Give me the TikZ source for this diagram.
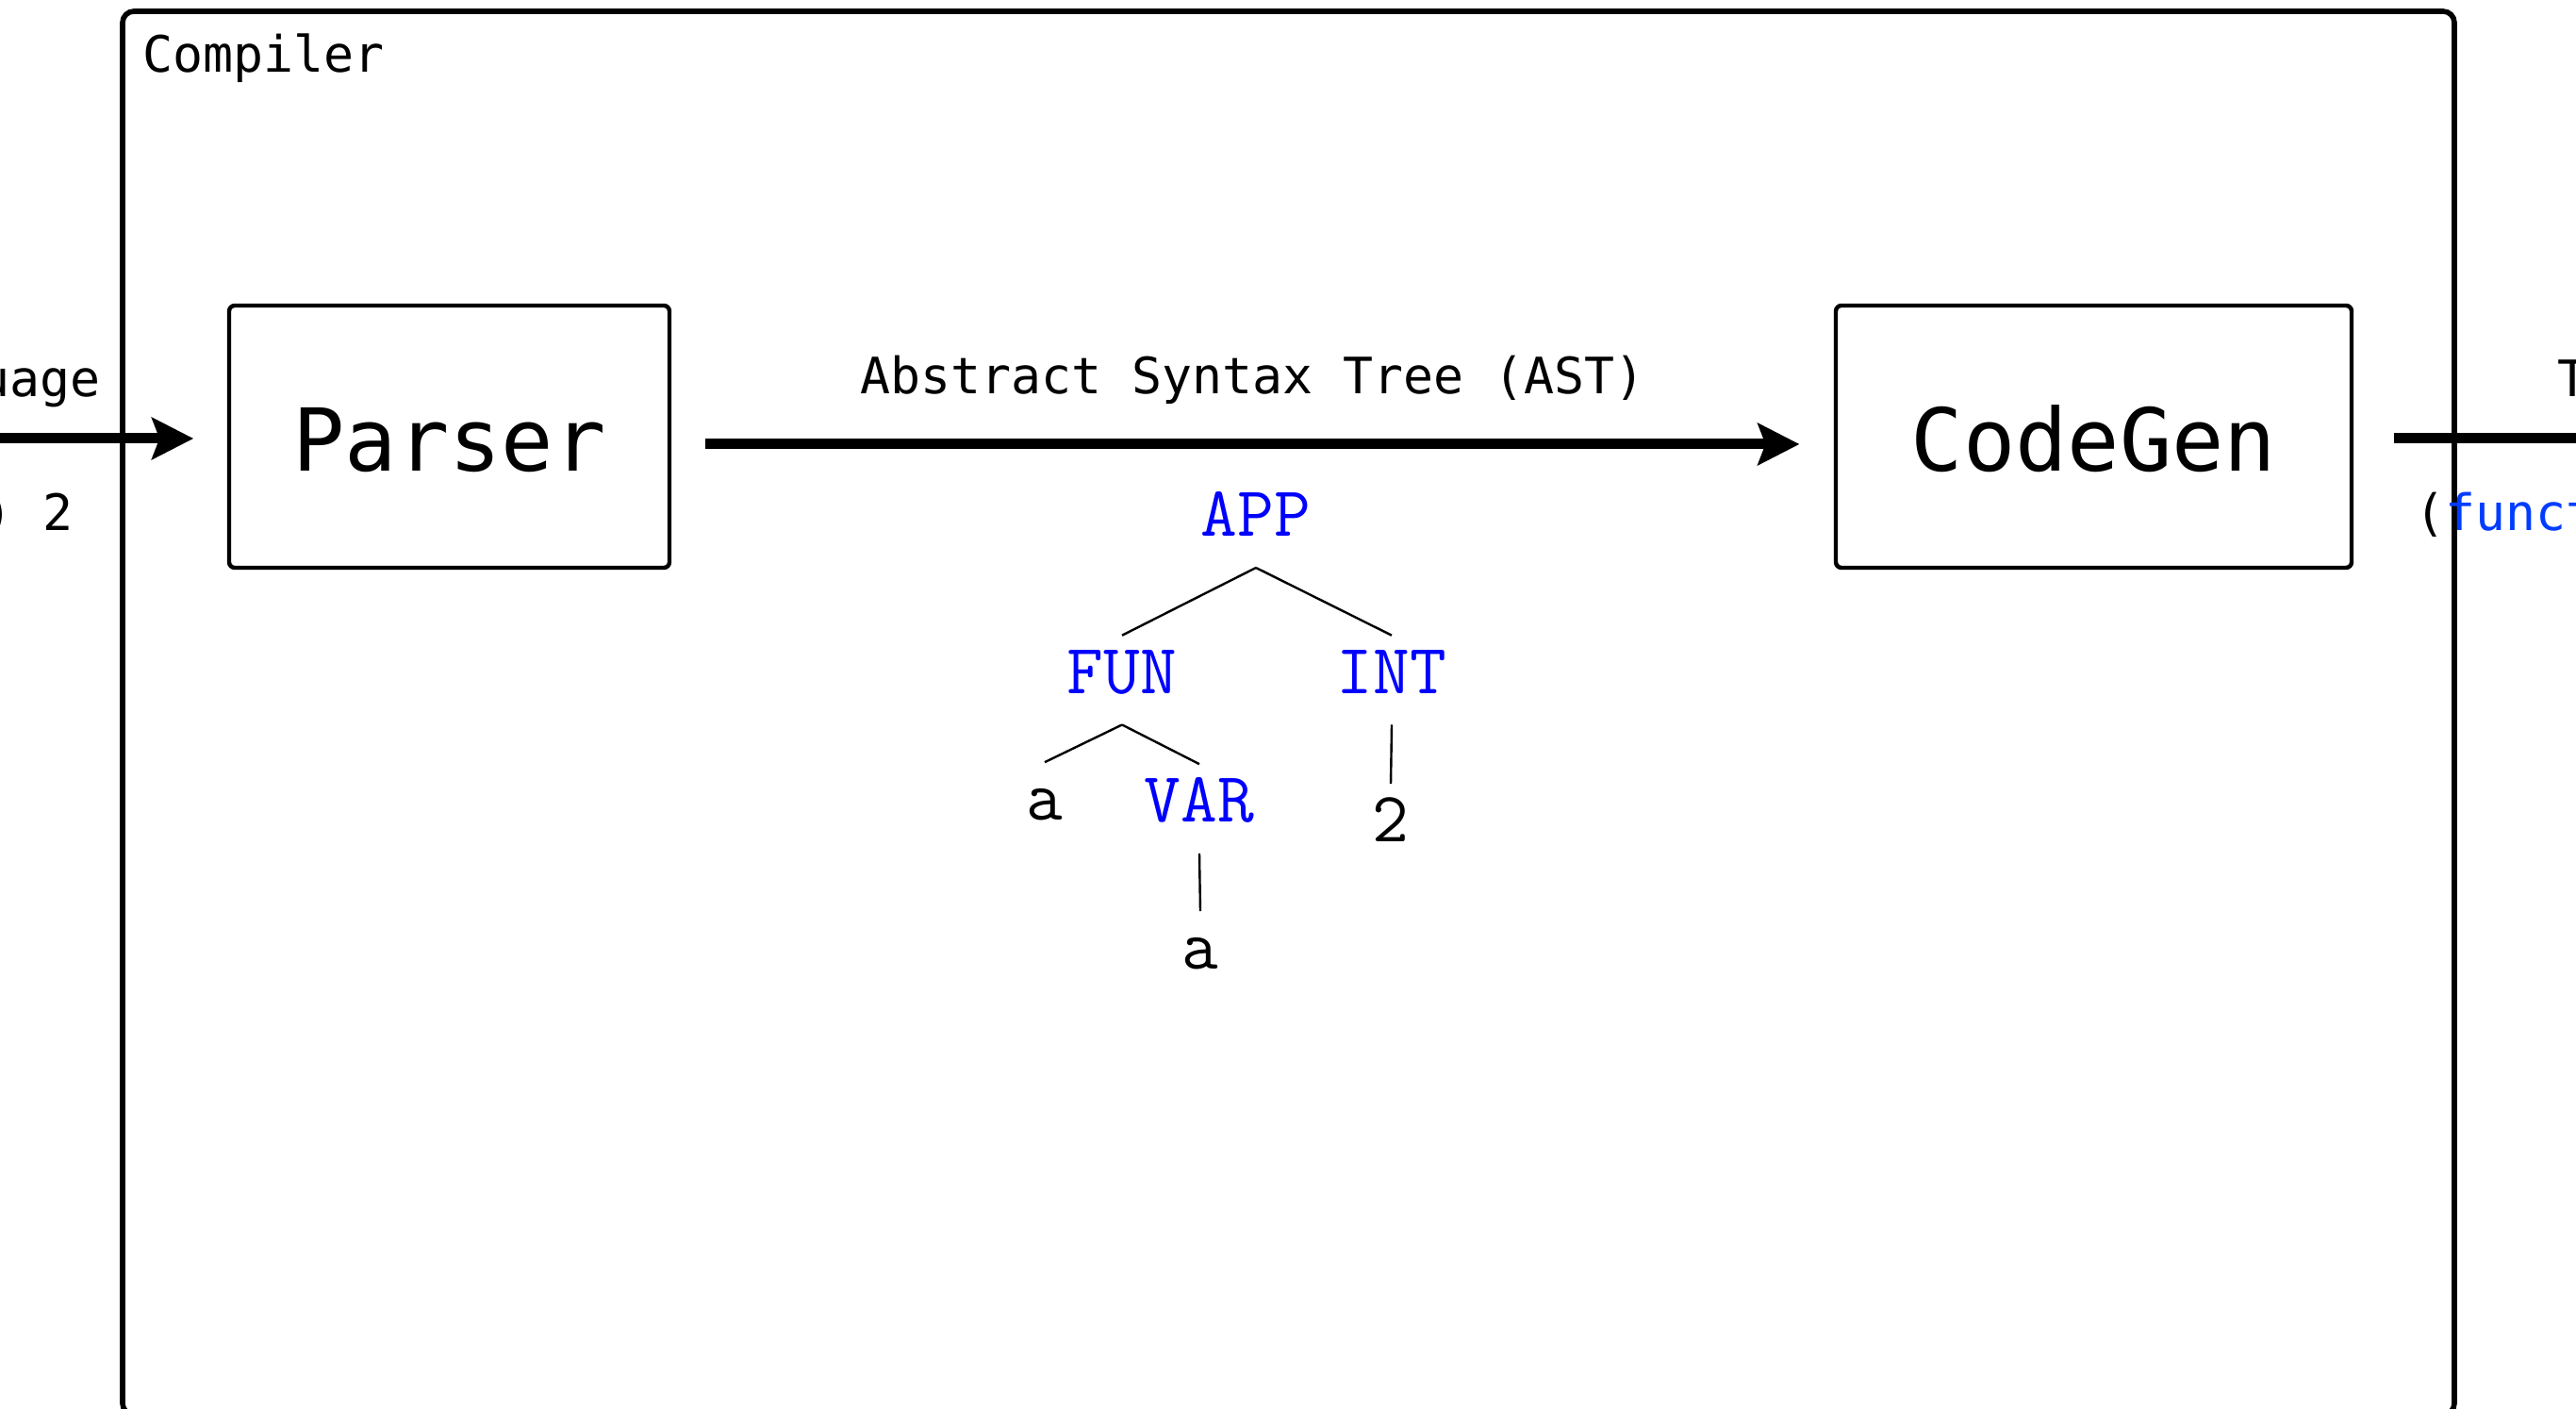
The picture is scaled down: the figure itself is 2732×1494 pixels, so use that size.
\documentclass[tikz,border=0pt]{standalone}
\usepackage{fontspec}
\usepackage{tikz}
\usetikzlibrary{arrows.meta,positioning}

\newfontfamily\sansmono{DejaVu Sans Mono}
\definecolor{keyword}{RGB}{0,60,255}

\begin{document}
\begin{tikzpicture}[
  x=0.25pt, y=-0.25pt,
  stage/.style={rectangle, draw, line width=1.1pt, rounded corners=1.5pt,
                minimum width=#1, minimum height=69.5pt,
                text height=18.5pt, text depth=0pt,
                font=\sansmono\fontsize{23pt}{28pt}\selectfont},
  lbl/.style={inner sep=0pt, font=\sansmono\fontsize{13.3pt}{16pt}\selectfont},
  ast/.style={anchor=base, inner xsep=0pt, inner ysep=4.35pt, outer sep=0pt,
              text height=11.1pt, text depth=3.9pt,
              font=\ttfamily\fontsize{18.8pt}{22pt}\selectfont},
  ctor/.style={ast, text=blue},
  arr/.style={-{Stealth[length=11pt, width=11pt, inset=2pt]}, line width=2.75pt},
  branch/.style={line width=0.6pt},
]
  \useasboundingbox (0,0) rectangle (2732,1494);
  \clip (0,0) rectangle (2732,1494);

  % outer frame
  \draw[line width=1.4pt, rounded corners=3pt] (130,12) rectangle (2603,1500);
  \node[lbl, anchor=base west] (title) at (151,77) {Compiler};

  % stages
  \node[stage=116.75pt] (parser)  at (476.5,463)  {Parser};
  \node[stage=136.75pt] (codegen) at (2220.5,463) {CodeGen};

  \coordinate (src) at (-40,465);
  \coordinate (tgt) at (2950,465);

  \draw[arr, shorten >=8.9pt] (src) -- ([yshift=-0.5pt]parser.west);
  \draw[arr, shorten <=9pt, shorten >=9.1pt] ([yshift=-2pt]parser.east) --
    node[lbl, above=12pt, text depth=0pt] (astlabel) {Abstract Syntax Tree (AST)}
    ([yshift=-2pt]codegen.west);
  \draw[arr, shorten <=10.6pt] ([yshift=-0.5pt]codegen.east) -- (tgt);

  % input and output
  \node[lbl, anchor=base east] (srclang) at (107,421) {Source Language};
  \node[lbl, anchor=base east] (srccode) at (78.5,563) {({\color{keyword}fun} a -> a) 2};
  \node[lbl, anchor=base west] (tgtlang) at (2712,421) {Target Language};
  \node[lbl, anchor=base west] (tgtcode) at (2561,563) {({\color{keyword}function}(a) \{ return a; \})(2)};

  % the tree
  \node[ctor] (app) at (1332,569) {APP};
  \node[ctor] (fun) at (1190,735.5) {FUN};
  \node[ctor] (int) at (1476,735.5) {INT};
  \node[ast] (param) at (1108,870) {a};
  \node[ctor] (var) at (1272,872) {VAR};
  \node[ast] (lit) at (1475,893) {2};
  \node[ast] (name) at (1273,1028) {a};

  \foreach \p/\c in {app/fun, app/int, fun/param, fun/var, int/lit, var/name}
    \draw[branch] (\p.south) -- (\c.north);
\end{tikzpicture}
\end{document}
